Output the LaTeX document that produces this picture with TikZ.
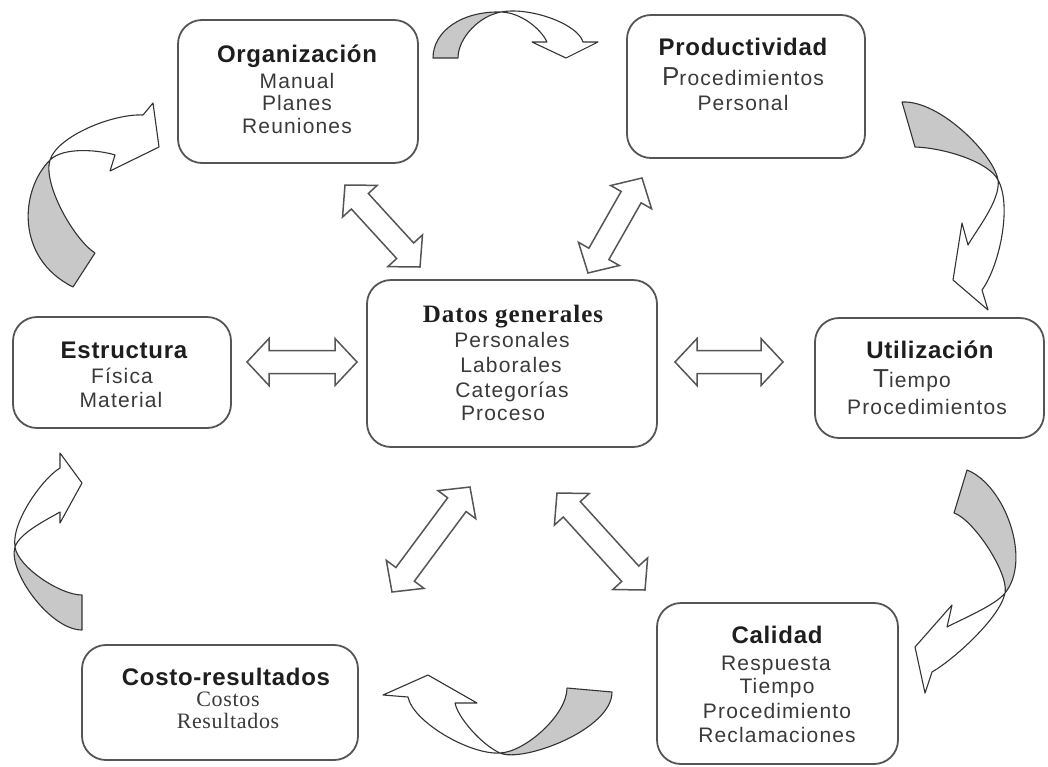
\documentclass[tikz,border=0pt]{standalone}
\usepackage{fontspec}
\setmainfont{Liberation Sans}
\newfontfamily\itmfont[LetterSpace=5.5]{Liberation Sans}
\newfontfamily\ttlfont[LetterSpace=3]{Liberation Sans}
\newfontfamily\serfont[LetterSpace=3]{Liberation Serif}
\newfontfamily\sertfont[LetterSpace=4]{Liberation Serif}
\usetikzlibrary{calc}
\definecolor{boxc}{HTML}{555555}
\definecolor{arrc}{HTML}{333333}
\definecolor{shade}{HTML}{C8C8C8}
\definecolor{txt}{HTML}{1E1E1E}
\definecolor{itc}{HTML}{3A3A3A}
\tikzset{
  box/.style={draw=boxc, line width=1.8pt, rounded corners=24pt, fill=white, inner sep=0pt},
  ttl/.style={font=\ttlfont\bfseries\fontsize{24}{28}\selectfont, text=txt, anchor=base, inner sep=0pt},
  itm/.style={font=\itmfont\fontsize{21}{24}\selectfont, text=itc, anchor=base, inner sep=0pt},
  sttl/.style={font=\sertfont\bfseries\fontsize{25}{29}\selectfont, text=txt, anchor=base, inner sep=0pt},
  sitm/.style={font=\serfont\fontsize{22}{26}\selectfont, text=itc, anchor=base, inner sep=0pt},
  arrfill/.style={fill=shade},
  arrline/.style={draw=arrc, line width=1.1pt, line join=round},
  dbl/.style={draw=boxc, line width=1.5pt, fill=white, line join=miter},
}
\newcommand\curvarr[3]{\fill[arrfill] #1 #3 -- cycle; \draw[arrline] #1 #2 #3 -- cycle;}
\newcommand\dblarr[2]{%
  \path ($(#1)!22pt!(#2)$) coordinate (da) ($(#2)!22pt!(#1)$) coordinate (db);
  \draw[dbl] (#1) -- ($(da)!23.5pt!90:(#2)$) -- ($(da)!11.5pt!90:(#2)$)
    -- ($(db)!11.5pt!-90:(#1)$) -- ($(db)!23.5pt!-90:(#1)$) -- (#2)
    -- ($(db)!23.5pt!90:(#1)$) -- ($(db)!11.5pt!90:(#1)$)
    -- ($(da)!11.5pt!-90:(#2)$) -- ($(da)!23.5pt!-90:(#2)$) -- cycle;}
\begin{document}
\begin{tikzpicture}[x=1pt,y=-1pt]
\useasboundingbox (0,0) rectangle (1048,766);
\fill[white] (0,0) rectangle (1048,766);
% boxes
\node[box, minimum width=240pt, minimum height=143pt] (org) at (298,91.5) {};
\node[box, minimum width=238pt, minimum height=143pt] (prod) at (746,86.5) {};
\node[box, minimum width=218pt, minimum height=111pt] (est) at (122,372.5) {};
\node[box, minimum width=290pt, minimum height=167pt] (datos) at (512,363.5) {};
\node[box, minimum width=229pt, minimum height=120pt] (util) at (929.5,378) {};
\node[box, minimum width=241pt, minimum height=161pt] (cal) at (777.5,683.5) {};
\node[box, minimum width=276pt, minimum height=115pt] (costo) at (220,702.5) {};
% texts
\node[ttl] (orgT) at (297,62) {Organización};
\node[itm] (org1) at (297,88) {Manual};
\node[itm] (org2) at (297,110) {Planes};
\node[itm] (org3) at (297,133) {Reuniones};
\node[ttl] (prodT) at (743,55) {Productividad};
\node[itm] (prod1) at (743,85) {{\fontsize{26}{28}\selectfont P}rocedimientos};
\node[itm] (prod2) at (743,110) {Personal};
\node[ttl] (estT) at (124,358) {Estructura};
\node[itm] (est1) at (122,383) {Física};
\node[itm] (est2) at (121,407) {Material};
\node[sttl] (datT) at (513,322) {Datos generales};
\node[itm] (dat1) at (512,347) {Personales};
\node[itm] (dat2) at (511,372) {Laborales};
\node[itm] (dat3) at (512,397) {Categorías};
\node[itm] (dat4) at (503,420) {Proceso};
\node[ttl] (utilT) at (930,358) {Utilización};
\node[itm] (util1) at (912,387) {{\fontsize{26}{28}\selectfont T}iempo};
\node[itm] (util2) at (927,414) {Procedimientos};
\node[ttl] (calT) at (777,643) {Calidad};
\node[itm] (cal1) at (776,670) {Respuesta};
\node[itm] (cal2) at (777,693) {Tiempo};
\node[itm] (cal3) at (777,718) {Procedimiento};
\node[itm] (cal4) at (777,742) {Reclamaciones};
\node[ttl] (costoT) at (226,685) {Costo-resultados};
\node[sitm] (costo1) at (228,706) {Costos};
\node[sitm] (costo2) at (228,728) {Resultados};
% double arrows
\coordinate (wL) at (247,362); \coordinate (wR) at (357,362);
\coordinate (eL) at (675,362); \coordinate (eR) at (783,362);
\coordinate (nwA) at (345,185); \coordinate (nwB) at (420,267);
\coordinate (neA) at (588,273); \coordinate (neB) at (642,178);
\coordinate (swA) at (392,592); \coordinate (swB) at (470,487);
\coordinate (seA) at (557,493); \coordinate (seB) at (645,590);
\dblarr{wL}{wR}
\dblarr{eL}{eR}
\dblarr{nwA}{nwB}
\dblarr{neA}{neB}
\dblarr{swA}{swB}
\dblarr{seA}{seB}
% curved arrows
% A: Organizacion -> Productividad
\curvarr{(433,58) .. controls (433,31) and (462,11) .. (501,12)}
 {.. controls (521,12.5) and (541,29) .. (547,42) -- (532,42) -- (566,58) -- (598,42) -- (583,42) .. controls (578,24) and (530,6.6) .. (501,12)}
 {.. controls (479,16) and (458,38) .. (458,58)}
% B: Productividad -> Utilizacion
\curvarr{(902,102) .. controls (940,100) and (994,155) .. (998,180)}
 {.. controls (1001,200) and (975,232) .. (968,245) -- (962,223) -- (953,280) -- (988,310) -- (982,290) .. controls (1000,265) and (1012,205) .. (998,180)}
 {.. controls (989,162) and (945,148) .. (915,147)}
% C: Utilizacion -> Calidad
\curvarr{(967,470) .. controls (1005,485) and (1032,560) .. (1005,593)}
 {.. controls (996,605) and (960,620) .. (947,627) -- (952,605) -- (915,647) -- (925,693) -- (932,672) .. controls (953,660) and (1000,618) .. (1005,593)}
 {.. controls (1009,573) and (973,519) .. (954,513)}
% D: Calidad -> Costo
\curvarr{(612,692) .. controls (612,730) and (522,763) .. (500,753)}
 {.. controls (482,745) and (458,718) .. (455,703) -- (477,703) -- (428,675) -- (383,695) -- (408,697) .. controls (413,722) and (470,755) .. (500,753)}
 {.. controls (525,752) and (567,715) .. (567,688)}
% E: Costo -> Estructura
\curvarr{(82,630) .. controls (50,630) and (7.5,571) .. (15,547)}
 {.. controls (19.5,533) and (47,519.5) .. (60,512) -- (60,523) -- (82,483) -- (60,453) -- (60,468) .. controls (43,478) and (11,522) .. (15,547)}
 {.. controls (18,567) and (60,595) .. (82,595)}
% F: Estructura -> Organizacion
\curvarr{(73,287) .. controls (15,258) and (20,190) .. (50,160)}
 {.. controls (64,146) and (101.5,150.5) .. (115,155) -- (110,171) -- (159,147) -- (153,103) -- (143,115) .. controls (113,113.5) and (57.5,136) .. (50,160)}
 {.. controls (42.5,184) and (74,239.5) .. (95,253)}
\end{tikzpicture}
\end{document}
